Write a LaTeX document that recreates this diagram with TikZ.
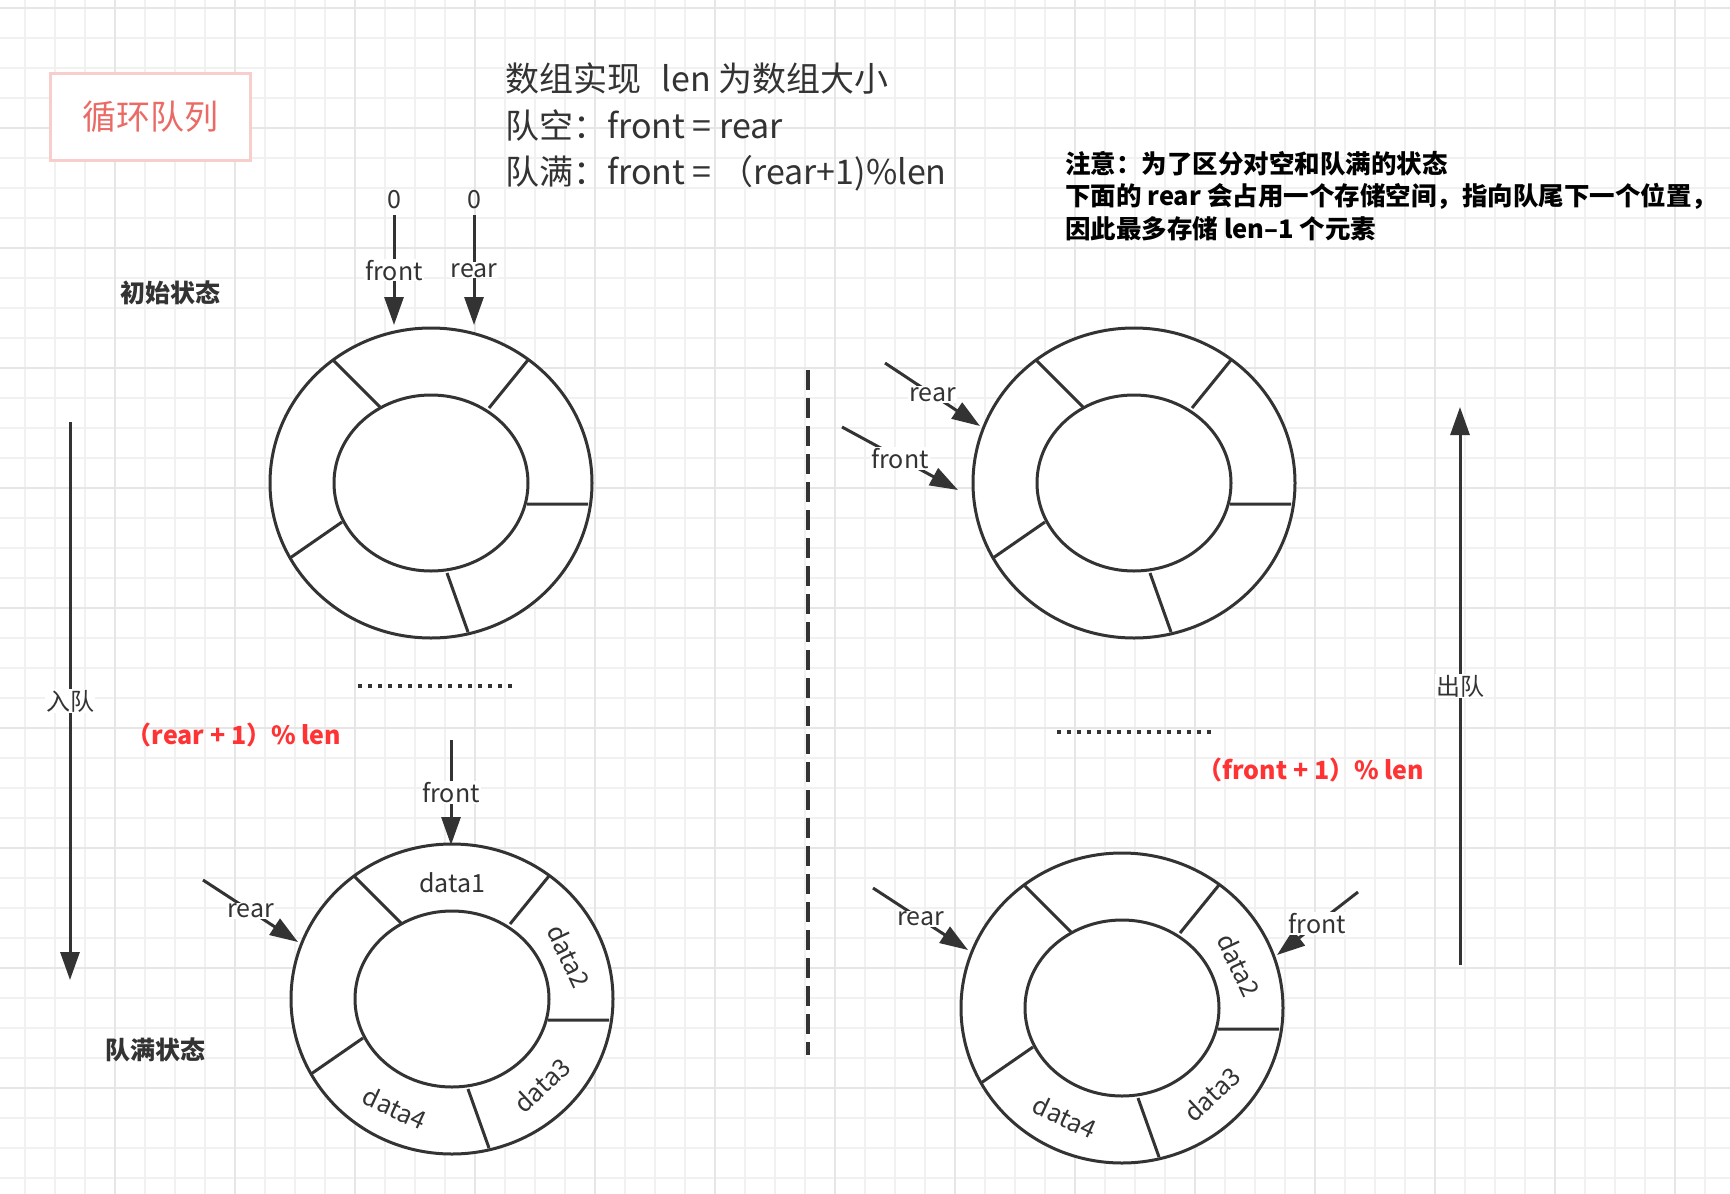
\documentclass[tikz,border=0pt]{standalone}
\usepackage{fontspec}
\setmainfont{Noto Sans CJK SC}
\usetikzlibrary{arrows.meta}
\definecolor{ink}{HTML}{333333}
\definecolor{gridminor}{HTML}{F1F1F1}
\definecolor{gridmajor}{HTML}{E6E6E6}
\definecolor{titlered}{HTML}{EA6B66}
\definecolor{titlebox}{HTML}{F8CECC}
\definecolor{hintred}{HTML}{FF3333}
\begin{document}
\begin{tikzpicture}[x=1pt,y=-1pt,
    line/.style={draw=ink,line width=3pt},
    arr/.style={line,-{Triangle[length=28pt,width=19pt]}},
    lbl/.style={fill=white,inner sep=1pt,text=ink,font=\fontsize{25}{30}\selectfont},
    tag/.style={text=ink,font=\fontsize{25}{30}\selectfont\bfseries},
    hint/.style={text=hintred,font=\fontsize{25}{30}\selectfont\bfseries},
    dots/.style={draw=ink,line width=3.5pt,dash pattern=on 3.5pt off 6.5pt}]
  \useasboundingbox (0,0) rectangle (1730,1194);
  \fill[white] (0,0) rectangle (1730,1194);
  % grid
  \foreach \gx in {25,55,...,1705}
    \draw[gridminor,line width=1.2pt] (\gx,0) -- (\gx,1194);
  \foreach \gy in {8,38,...,1178}
    \draw[gridminor,line width=1.2pt] (0,\gy) -- (1730,\gy);
  \foreach \gx in {115,235,...,1675}
    \draw[gridmajor,line width=2pt] (\gx,0) -- (\gx,1194);
  \foreach \gy in {8,128,...,1088}
    \draw[gridmajor,line width=2pt] (0,\gy) -- (1730,\gy);
  % texts
  \node[draw=titlebox,line width=3pt,fill=white,minimum width=200pt,minimum height=87pt,
        text=titlered,font=\fontsize{34}{40}\selectfont] (title) at (150,117) {循环队列};
  \node[anchor=west,align=left,inner sep=0pt,text=ink,font=\fontsize{34}{46.5}\selectfont] (spec) at (505,127)
    {数组实现\hspace{0.6em}len 为数组大小\\队空：front = rear\\队满：front = （rear+1)\%len};
  \node[anchor=west,align=left,inner sep=0pt,text=black,font=\fontsize{25.5}{32.5}\selectfont\bfseries] (note) at (1065,196)
    {注意：为了区分对空和队满的状态\\下面的 rear 会占用一个存储空间，指向队尾下一个位置，\\因此最多存储 len–1 个元素};
  \node[tag] (init) at (170,293) {初始状态};
  \node[tag] (full) at (155,1050) {队满状态};
  \node[hint] (enq) at (234,735) {（rear + 1）\% len};
  \node[hint] (deq) at (1311,770) {（front + 1）\% len};
  % rings
  \foreach \cx/\cy in {431/483,1134/483,452/999,1122/1008} {
    \begin{scope}[shift={(\cx,\cy)}]
      \draw[line,fill=white] (0,0) ellipse [x radius=161,y radius=155];
      \draw[line] (0,0) ellipse [x radius=97,y radius=88];
      \draw[line] (-98,-123) -- (-51,-76) (97,-123) -- (58,-75) (96,21) -- (157,21)
        (16,90) -- (37,149) (-89,39) -- (-141,75);
    \end{scope}
  }
  \node[lbl,fill=none] (c1) at (452,883) {data1};
  \node[lbl,fill=none,rotate=-65] (c2) at (569,956) {data2};
  \node[lbl,fill=none,rotate=43] (c3) at (542,1085) {data3};
  \node[lbl,fill=none,rotate=-25] (c4) at (395,1108) {data4};
  \node[lbl,fill=none,rotate=-65] (d2) at (1239,965) {data2};
  \node[lbl,fill=none,rotate=43] (d3) at (1212,1094) {data3};
  \node[lbl,fill=none,rotate=-25] (d4) at (1065,1117) {data4};
  % pointers
  \node[lbl,fill=none,inner sep=6pt] (zf) at (394,200) {0};
  \node[lbl,fill=none,inner sep=6pt] (zr) at (474,200) {0};
  \coordinate (fA) at (394,325);
  \coordinate (rA) at (474,325);
  \draw[arr] (zf) -- node[lbl]{front} (fA);
  \draw[arr] (zr) -- node[lbl]{rear} (rA);
  \coordinate (rB0) at (885,363);
  \coordinate (rB) at (980,426);
  \coordinate (fB0) at (842,427);
  \coordinate (fB) at (958,490);
  \draw[arr] (rB0) -- node[lbl]{rear} (rB);
  \draw[arr] (fB0) -- node[lbl]{front} (fB);
  \coordinate (fC0) at (451,740);
  \coordinate (fC) at (451,845);
  \coordinate (rC0) at (203,880);
  \coordinate (rC) at (298,942);
  \draw[arr] (fC0) -- node[lbl]{front} (fC);
  \draw[arr] (rC0) -- node[lbl]{rear} (rC);
  \coordinate (rD0) at (873,888);
  \coordinate (rD) at (968,950);
  \coordinate (fD0) at (1358,892);
  \coordinate (fD) at (1277,955);
  \draw[arr] (rD0) -- node[lbl]{rear} (rD);
  \draw[arr] (fD0) -- node[lbl]{front} (fD);
  % enqueue / dequeue
  \coordinate (in0) at (70,422);
  \coordinate (in1) at (70,980);
  \draw[arr] (in0) -- node[lbl,font=\fontsize{24}{28}\selectfont]{入队} (in1);
  \coordinate (out0) at (1460,965);
  \coordinate (out1) at (1460,407);
  \draw[arr] (out0) -- node[lbl,font=\fontsize{24}{28}\selectfont]{出队} (out1);
  % separators
  \draw[line,line width=3.5pt,dash pattern=on 20pt off 8pt] (808,370) -- (808,1055);
  \draw[dots] (358,686) -- (512,686);
  \draw[dots] (1057,732) -- (1213,732);
\end{tikzpicture}
\end{document}
